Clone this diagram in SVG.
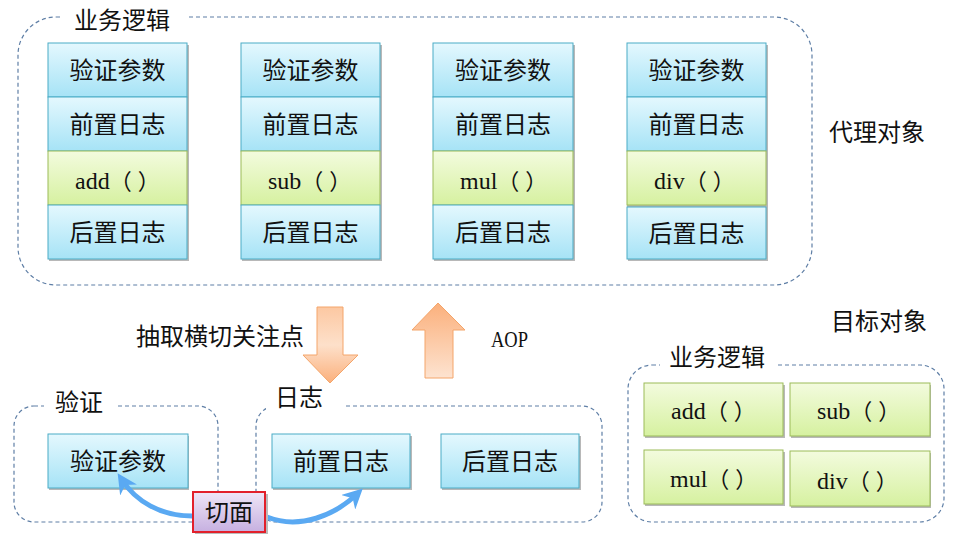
<svg xmlns="http://www.w3.org/2000/svg" width="956" height="546" viewBox="0 0 956 546">
<defs>
<linearGradient id="gBlue" x1="0" y1="0" x2="0" y2="1"><stop offset="0" stop-color="#e4f8fe"/><stop offset="1" stop-color="#a6e3f6"/></linearGradient>
<linearGradient id="gGreen" x1="0" y1="0" x2="0" y2="1"><stop offset="0" stop-color="#f3fbde"/><stop offset="1" stop-color="#d6f1a0"/></linearGradient>
<linearGradient id="gPurple" x1="0" y1="0" x2="0" y2="1"><stop offset="0" stop-color="#efe6f7"/><stop offset="1" stop-color="#c6b0e0"/></linearGradient>
<linearGradient id="gDown" x1="0" y1="0" x2="0" y2="1"><stop offset="0" stop-color="#fcc8a2"/><stop offset="0.5" stop-color="#fde0ca"/><stop offset="1" stop-color="#fbb07c"/></linearGradient>
<linearGradient id="gUp" x1="0" y1="0" x2="0" y2="1"><stop offset="0" stop-color="#fbb07c"/><stop offset="1" stop-color="#fde3d0"/></linearGradient>
<marker id="ah" viewBox="0 0 10 10" refX="6" refY="5" markerWidth="4" markerHeight="4" orient="auto"><path d="M0,0 L10,5 L0,10 L3,5 Z" fill="#5aa9f2"/></marker>
<style>
.dash{fill:none;stroke:#5f7fa6;stroke-width:1.2;stroke-dasharray:4 3}
.blue{fill:url(#gBlue);stroke:#4bacc6;stroke-width:1}
.green{fill:url(#gGreen);stroke:#9bbb59;stroke-width:1}
.sh{fill:#b8b8b8}
.cn{font-family:"Noto Sans CJK SC","Noto Sans",sans-serif;font-size:24px;fill:#111}
.mid{text-anchor:middle}
.lt{font-family:"Liberation Serif","Noto Sans CJK SC",serif;font-size:24px;fill:#111}
.p{font-family:"Noto Sans CJK SC",sans-serif;font-size:22px}
.bg{fill:#fff}
.conn{fill:none;stroke:#5aa9f2;stroke-width:5;stroke-linecap:round}
</style>
</defs>
<rect width="956" height="546" fill="#fff"/>

<g id="proxy-container">
<rect class="dash" x="18" y="17" width="794" height="268" rx="38"/>
<rect class="bg" x="63" y="8" width="124" height="20"/>
<text class="cn" x="74" y="29">业务逻辑</text>
<text class="cn" x="829" y="141">代理对象</text>
</g>

<g id="col-add">
<rect class="sh" x="49" y="45" width="140" height="216"/>
<rect class="blue" x="48" y="43" width="139" height="54"/><text class="cn mid" x="117.5" y="79">验证参数</text>
<rect class="blue" x="48" y="97" width="139" height="54"/><text class="cn mid" x="117.5" y="133">前置日志</text>
<rect class="green" x="48" y="151" width="139" height="54"/><text class="lt" x="75" y="189">add<tspan class="p">（</tspan><tspan class="p" dx="6">）</tspan></text>
<rect class="blue" x="48" y="205" width="139" height="54"/><text class="cn mid" x="117.5" y="241">后置日志</text>
</g>
<g id="col-sub">
<rect class="sh" x="242" y="45" width="140" height="216"/>
<rect class="blue" x="241" y="43" width="139" height="54"/><text class="cn mid" x="310.5" y="79">验证参数</text>
<rect class="blue" x="241" y="97" width="139" height="54"/><text class="cn mid" x="310.5" y="133">前置日志</text>
<rect class="green" x="241" y="151" width="139" height="54"/><text class="lt" x="268" y="189">sub<tspan class="p">（</tspan><tspan class="p" dx="6">）</tspan></text>
<rect class="blue" x="241" y="205" width="139" height="54"/><text class="cn mid" x="310.5" y="241">后置日志</text>
</g>
<g id="col-mul">
<rect class="sh" x="434" y="45" width="141" height="216"/>
<rect class="blue" x="433" y="43" width="140" height="54"/><text class="cn mid" x="503" y="79">验证参数</text>
<rect class="blue" x="433" y="97" width="140" height="54"/><text class="cn mid" x="503" y="133">前置日志</text>
<rect class="green" x="433" y="151" width="140" height="54"/><text class="lt" x="460" y="189">mul<tspan class="p">（</tspan><tspan class="p" dx="6">）</tspan></text>
<rect class="blue" x="433" y="205" width="140" height="54"/><text class="cn mid" x="503" y="241">后置日志</text>
</g>
<g id="col-div">
<rect class="sh" x="628" y="45" width="140" height="216"/>
<rect class="blue" x="627" y="43" width="139" height="54"/><text class="cn mid" x="696.5" y="79">验证参数</text>
<rect class="blue" x="627" y="97" width="139" height="54"/><text class="cn mid" x="696.5" y="133">前置日志</text>
<rect class="sh" x="627" y="205" width="140" height="3"/>
<rect class="green" x="627" y="151" width="139" height="54"/><text class="lt" x="654" y="189">div<tspan class="p">（</tspan><tspan class="p" dx="6">）</tspan></text>
<rect class="blue" x="627" y="207" width="139" height="52"/><text class="cn mid" x="696.5" y="242">后置日志</text>
</g>

<g id="extract-arrow">
<path d="M317,307 H343 V355 H358 L330,383 L303,355 H317 Z" fill="url(#gDown)" stroke="#f4a56a" stroke-width="1"/>
<text class="cn" x="136" y="345">抽取横切关注点</text>
</g>
<g id="aop-arrow">
<path d="M438,303 L465,330 H453 V378 H425 V330 H412 Z" fill="url(#gUp)" stroke="#f4a56a" stroke-width="1"/>
<text class="lt" x="491" y="347" font-size="25" textLength="37" lengthAdjust="spacingAndGlyphs">AOP</text>
</g>

<g id="target-container">
<text class="cn" x="831" y="330">目标对象</text>
<rect class="dash" x="628" y="365" width="316" height="157" rx="24"/>
<rect class="bg" x="660" y="350" width="116" height="20"/>
<text class="cn" x="669" y="366">业务逻辑</text>
</g>
<g id="t-add"><rect class="sh" x="645" y="385" width="140" height="53"/><rect class="green" x="644" y="383" width="139" height="53"/><text class="lt" x="671" y="419">add<tspan class="p">（</tspan><tspan class="p" dx="6">）</tspan></text></g>
<g id="t-sub"><rect class="sh" x="791" y="385" width="140" height="53"/><rect class="green" x="790" y="383" width="140" height="53"/><text class="lt" x="817" y="419">sub<tspan class="p">（</tspan><tspan class="p" dx="6">）</tspan></text></g>
<g id="t-mul"><rect class="sh" x="645" y="452" width="140" height="54"/><rect class="green" x="644" y="450" width="139" height="54"/><text class="lt" x="670" y="487">mul<tspan class="p">（</tspan><tspan class="p" dx="6">）</tspan></text></g>
<g id="t-div"><rect class="sh" x="791" y="453" width="140" height="55"/><rect class="green" x="790" y="451" width="140" height="55"/><text class="lt" x="817" y="489">div<tspan class="p">（</tspan><tspan class="p" dx="6">）</tspan></text></g>

<g id="verify-container">
<rect class="dash" x="14" y="406" width="204" height="116" rx="20"/>
<rect class="bg" x="44" y="392" width="72" height="20"/>
<text class="cn" x="55" y="411">验证</text>
</g>
<g id="verify-param"><rect class="sh" x="49" y="436" width="140" height="54"/><rect class="blue" x="48" y="434" width="140" height="54"/><text class="cn mid" x="118" y="470">验证参数</text></g>

<g id="log-container">
<rect class="dash" x="256" y="406" width="346" height="116" rx="20"/>
<rect class="bg" x="266" y="386" width="80" height="26"/>
<text class="cn" x="275" y="406">日志</text>
</g>
<g id="pre-log"><rect class="sh" x="273" y="436" width="139" height="54"/><rect class="blue" x="272" y="434" width="138" height="54"/><text class="cn mid" x="341" y="470">前置日志</text></g>
<g id="post-log"><rect class="sh" x="442" y="436" width="139" height="54"/><rect class="blue" x="441" y="434" width="138" height="54"/><text class="cn mid" x="510" y="470">后置日志</text></g>

<g id="connectors">
<path class="conn" d="M195,516 C160,517 135,500 122,480" marker-end="url(#ah)"/>
<path class="conn" d="M267,517 C300,530 335,515 357,494" marker-end="url(#ah)"/>
</g>

<g id="aspect">
<rect x="195" y="494" width="73" height="40" fill="#bbb"/>
<rect x="193" y="492" width="72" height="40" fill="url(#gPurple)" stroke="#e2202b" stroke-width="2"/>
<text class="cn mid" x="229" y="521">切面</text>
</g>
</svg>
